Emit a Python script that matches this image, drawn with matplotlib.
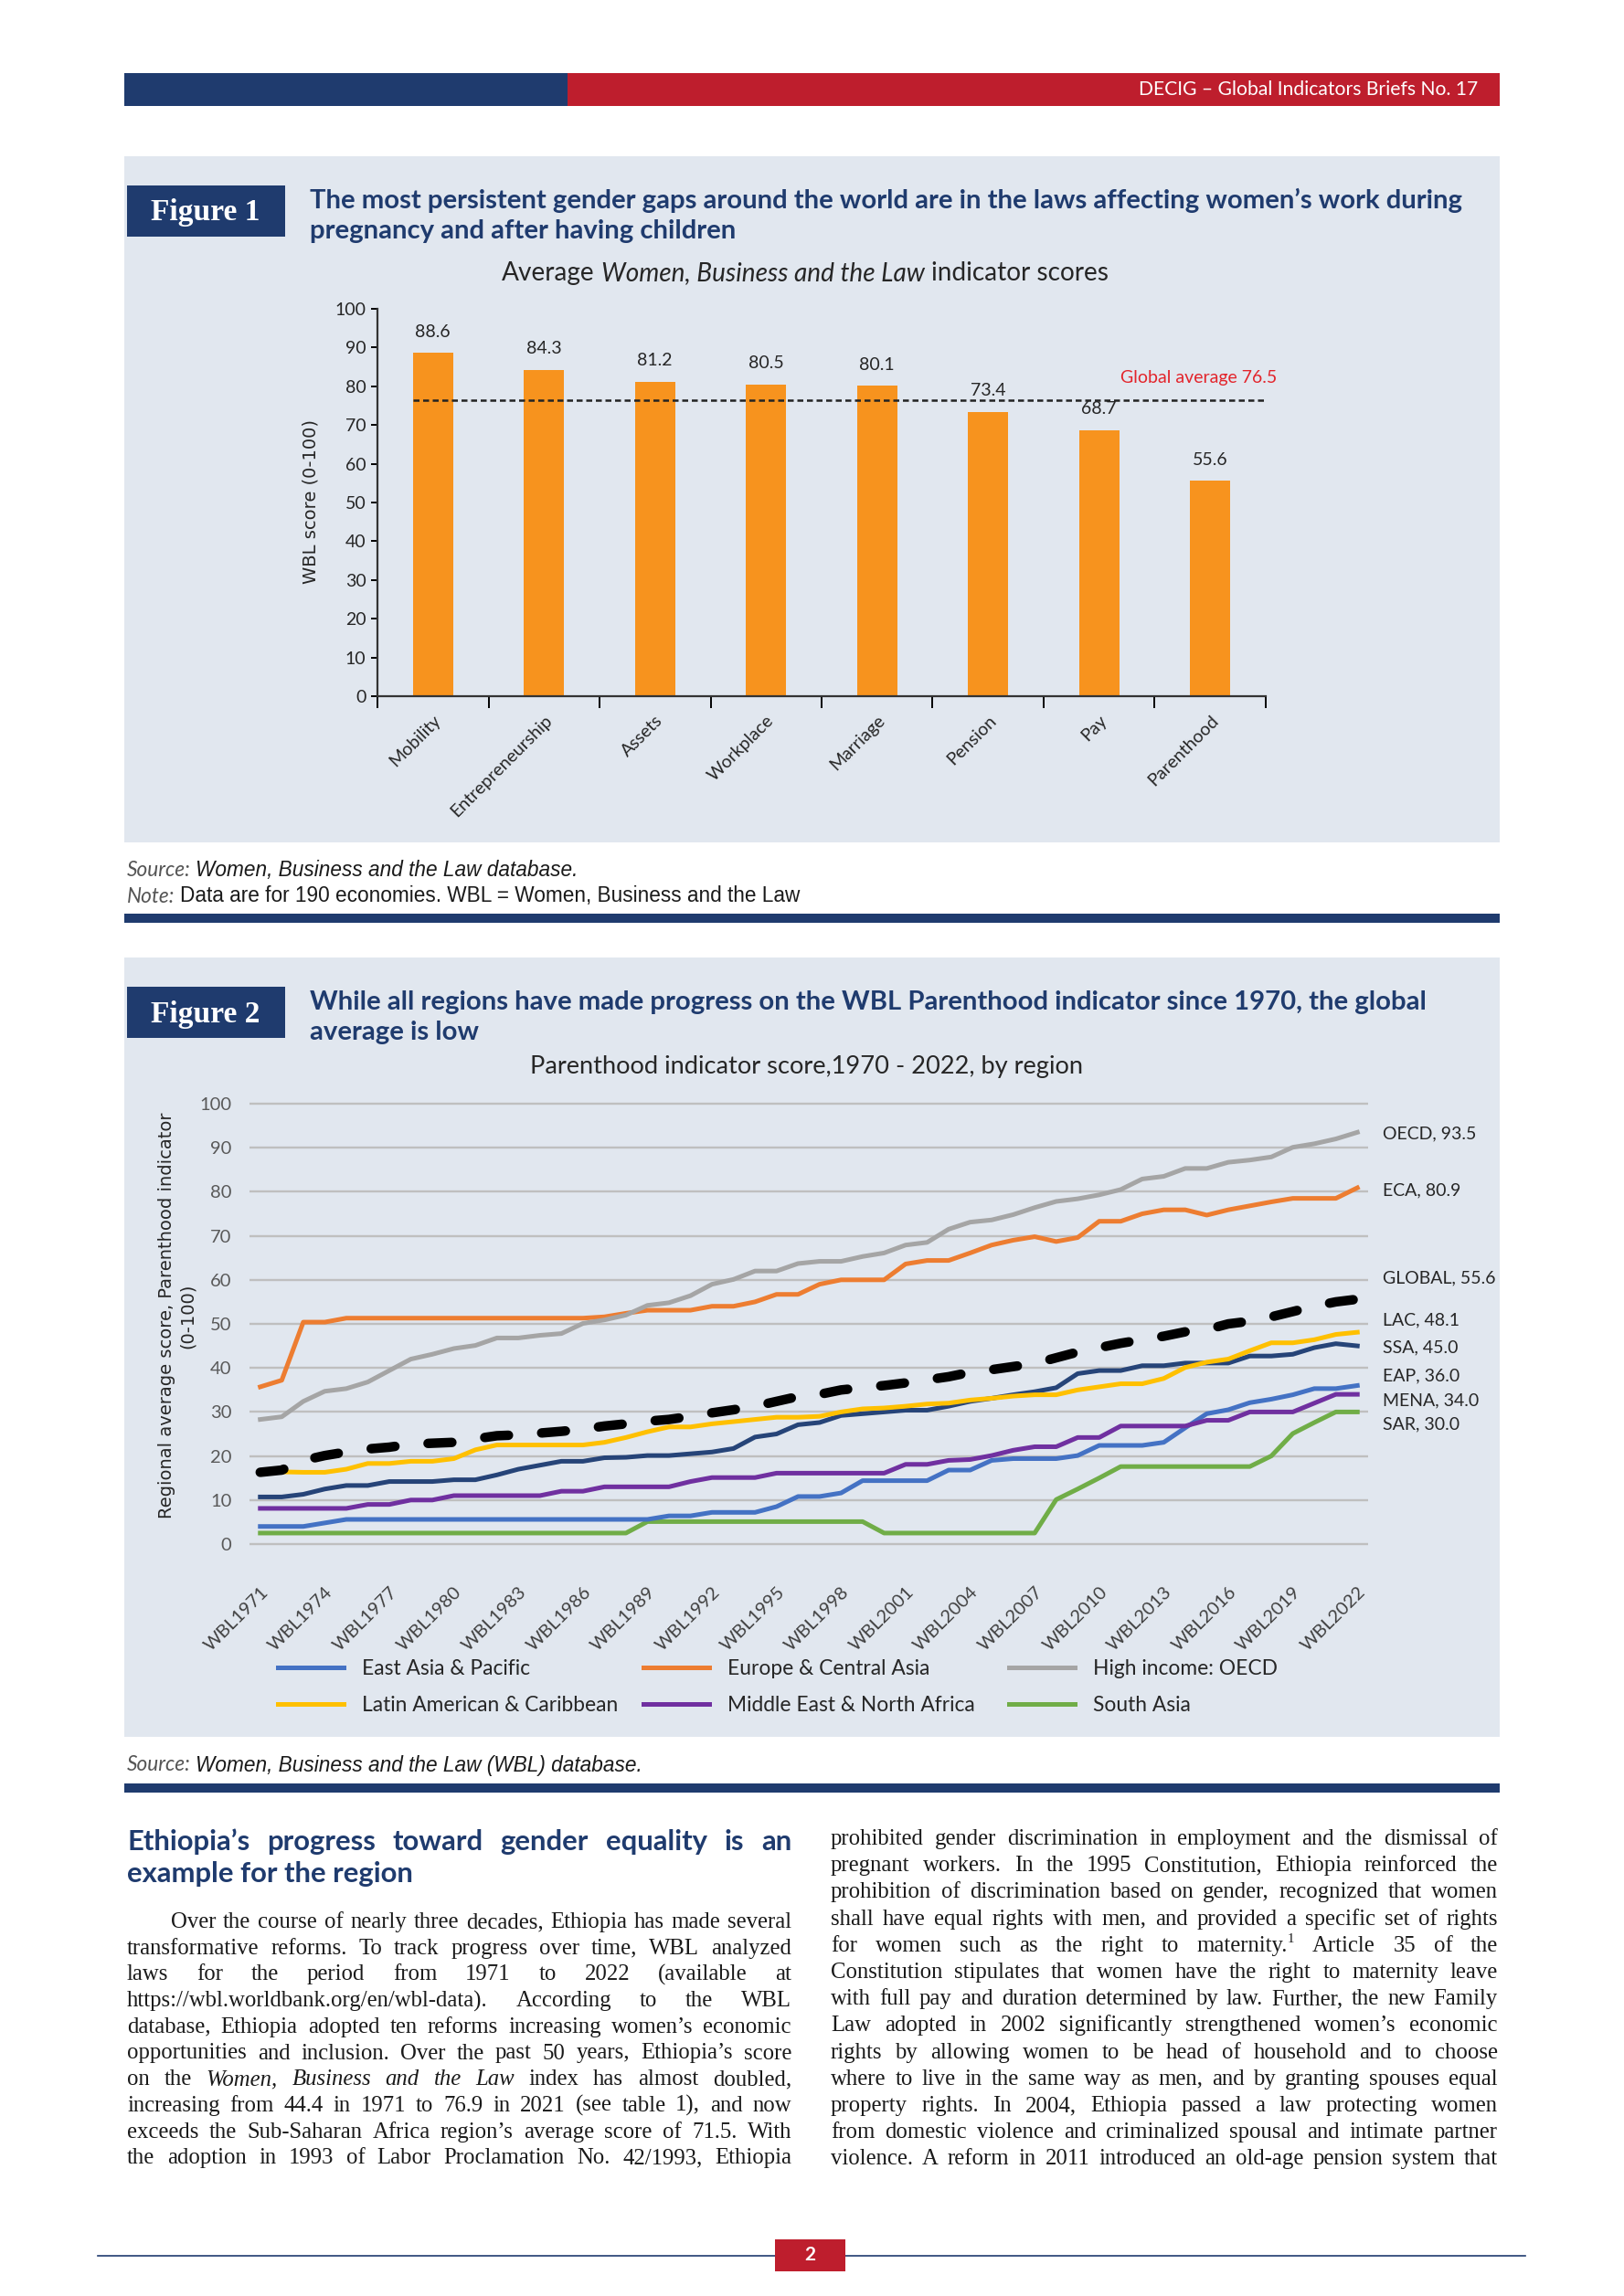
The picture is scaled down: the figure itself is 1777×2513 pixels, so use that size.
import matplotlib
matplotlib.use('Agg')
import matplotlib.pyplot as plt
from matplotlib.patches import Rectangle
import numpy as np

# ---------------- data: Figure 1 ----------------
fig1_categories = ['Mobility', 'Entrepreneurship', 'Assets', 'Workplace',
                   'Marriage', 'Pension', 'Pay', 'Parenthood']
fig1_scores = [88.6, 84.3, 81.2, 80.5, 80.1, 73.4, 68.7, 55.6]
fig1_global_average = 76.5

# ---------------- data: Figure 2 ----------------
years = list(range(1971, 2023))
eap = [4.0, 4.0, 4.0, 4.8, 5.6, 5.6, 5.6, 5.6, 5.6, 5.6, 5.6, 5.6, 5.6, 5.6, 5.6, 5.6, 5.6, 5.6, 5.6,
       6.4, 6.4, 7.2, 7.2, 7.2, 8.5, 10.8, 10.8, 11.6, 14.4, 14.4, 14.4, 14.4, 16.8, 16.8, 19.0, 19.4,
       19.4, 19.4, 20.1, 22.4, 22.4, 22.4, 23.1, 26.4, 29.6, 30.5, 32.1, 32.9, 33.9, 35.3, 35.3, 36.0]
eca = [35.7, 37.2, 50.4, 50.4, 51.3, 51.3, 51.3, 51.3, 51.3, 51.3, 51.3, 51.3, 51.3, 51.3, 51.3, 51.3,
       51.6, 52.4, 53.1, 53.1, 53.1, 54.0, 54.0, 55.0, 56.7, 56.7, 59.0, 60.0, 60.0, 60.0, 63.6, 64.4,
       64.4, 66.1, 67.9, 69.0, 69.8, 68.7, 69.6, 73.3, 73.3, 75.0, 75.9, 75.9, 74.7, 75.9, 76.8, 77.7,
       78.5, 78.5, 78.5, 80.9]
oecd = [28.3, 28.9, 32.4, 34.7, 35.3, 36.8, 39.4, 42.0, 43.1, 44.4, 45.1, 46.8, 46.8, 47.4, 47.8, 50.1,
        50.9, 52.0, 54.2, 54.8, 56.4, 59.0, 60.1, 62.0, 62.0, 63.7, 64.2, 64.2, 65.3, 66.1, 67.9, 68.5,
        71.5, 73.1, 73.6, 74.8, 76.4, 77.8, 78.4, 79.3, 80.5, 82.9, 83.5, 85.3, 85.3, 86.7, 87.2, 87.9,
        90.1, 90.9, 92.0, 93.5]
lac = [16.4, 16.4, 16.3, 16.3, 17.0, 18.3, 18.3, 18.8, 18.8, 19.4, 21.4, 22.5, 22.5, 22.5, 22.5, 22.5,
       23.1, 24.2, 25.5, 26.6, 26.6, 27.3, 27.8, 28.3, 28.8, 28.8, 29.0, 30.0, 30.7, 30.9, 31.3, 31.8,
       32.0, 32.7, 33.1, 33.6, 33.9, 33.9, 35.0, 35.7, 36.4, 36.4, 37.6, 40.1, 41.3, 42.0, 43.9, 45.7,
       45.7, 46.4, 47.6, 48.1]
mena = [8.1, 8.1, 8.1, 8.1, 8.1, 9.0, 9.0, 10.0, 10.0, 11.0, 11.0, 11.0, 11.0, 11.0, 12.0, 12.0, 13.0,
        13.0, 13.0, 13.0, 14.2, 15.1, 15.1, 15.1, 16.1, 16.1, 16.1, 16.1, 16.1, 16.1, 18.1, 18.1, 19.0,
        19.2, 20.1, 21.3, 22.1, 22.1, 24.2, 24.2, 26.8, 26.8, 26.8, 26.8, 28.1, 28.1, 30.0, 30.0, 30.0,
        32.0, 34.0, 34.0]
ssa = [10.7, 10.7, 11.3, 12.5, 13.3, 13.3, 14.2, 14.2, 14.2, 14.6, 14.6, 15.7, 17.0, 17.9, 18.8, 18.8,
       19.6, 19.7, 20.1, 20.1, 20.5, 20.9, 21.7, 24.3, 25.0, 27.1, 27.6, 29.2, 29.6, 30.0, 30.4, 30.4,
       31.3, 32.4, 33.1, 33.9, 34.6, 35.5, 38.7, 39.4, 39.4, 40.5, 40.5, 41.1, 41.1, 41.1, 42.7, 42.7,
       43.1, 44.6, 45.5, 45.0]
sar = [2.5, 2.5, 2.5, 2.5, 2.5, 2.5, 2.5, 2.5, 2.5, 2.5, 2.5, 2.5, 2.5, 2.5, 2.5, 2.5, 2.5, 2.5,
       5.1, 5.1, 5.1, 5.1, 5.1, 5.1, 5.1, 5.1, 5.1, 5.1, 5.1,
       2.5, 2.5, 2.5, 2.5, 2.5, 2.5, 2.5, 2.5,
       10.1, 12.5, 15.0, 17.6, 17.6, 17.6, 17.6, 17.6, 17.6, 17.6, 20.0, 25.1, 27.6, 30.0, 30.0]
global_avg = [16.3, 16.8, 19.0, 20.1, 20.9, 21.6, 22.0, 22.7, 22.9, 23.1, 23.9, 24.6, 24.8, 25.2, 25.6,
              26.1, 26.8, 27.3, 27.9, 28.3, 29.0, 29.8, 30.5, 31.3, 32.4, 33.5, 34.0, 35.0, 35.5, 36.0,
              36.6, 37.3, 38.0, 39.0, 39.6, 40.3, 41.0, 42.3, 43.6, 44.6, 45.6, 46.4, 47.2, 48.2, 48.7,
              50.0, 50.6, 51.6, 52.8, 54.0, 55.0, 55.6]
for s in (eap, eca, oecd, lac, mena, ssa, sar, global_avg):
    assert len(s) == len(years)

x_tick_years = years[::3]

# ---------------- page / style ----------------
W, H = 1777, 2513
fig = plt.figure(figsize=(W / 100, H / 100), dpi=100)
fig.patch.set_facecolor('white')
R = fig.canvas.get_renderer()

NAVY = '#1F3B6E'
RED = '#BE1E2D'
PANEL = '#E1E7EF'
SANS = ['Lato', 'DejaVu Sans']
SERIF = ['Liberation Serif', 'DejaVu Serif']


def fx(px):
    return px / W


def fy(py):
    return 1 - py / H


def rect(x0, y0, x1, y1, color, z=-5):
    fig.add_artist(Rectangle((fx(x0), fy(y1)), fx(x1) - fx(x0), fy(y0) - fy(y1),
                             transform=fig.transFigure, facecolor=color,
                             edgecolor='none', zorder=z))


def width_of(t):
    return t.get_window_extent(renderer=R).width


def space_w(fs, family, weight='normal', style='normal'):
    a = fig.text(0, 0, 'a a', fontsize=fs, family=family, weight=weight, style=style)
    b = fig.text(0, 0, 'aa', fontsize=fs, family=family, weight=weight, style=style)
    w = width_of(a) - width_of(b)
    a.remove(); b.remove()
    return w


def runs(x, y, parts, fs, ha='left', va='center', color='black', target=None):
    """parts: list of (text, dict(family, style, weight, color)); joined by spaces."""
    def build(size):
        objs = []
        for s, kw in parts:
            kk = dict(family=SANS, style='normal', weight='normal', color=color)
            kk.update(kw)
            objs.append(fig.text(0, fy(y), s, fontsize=size, va=va, ha='left', **kk))
        return objs
    objs = build(fs)
    sp = [space_w(fs, t.get_fontfamily(), t.get_weight(), t.get_style()) for t in objs]
    ws = [width_of(t) for t in objs]
    total = sum(ws) + sum(sp[:-1])
    if target is not None:
        for t in objs:
            t.remove()
        fs = fs * target / total
        objs = build(fs)
        sp = [space_w(fs, t.get_fontfamily(), t.get_weight(), t.get_style()) for t in objs]
        ws = [width_of(t) for t in objs]
        total = sum(ws) + sum(sp[:-1])
    if ha == 'center':
        cur = x - total / 2
    elif ha == 'right':
        cur = x - total
    else:
        cur = x
    for t, w, s in zip(objs, ws, sp):
        t.set_x(fx(cur))
        cur += w + s
    return fs


def fit_size(text, target, family, weight='normal', style='normal'):
    t = fig.text(0, 0, text, fontsize=10, family=family, weight=weight, style=style)
    w = width_of(t)
    t.remove()
    return 10 * target / w


def para(lines, x0, x1, base0, dy, fs, family, color, indent=0, justify=True):
    sp = space_w(fs, family)
    for i, line in enumerate(lines):
        y = base0 + i * dy
        left = x0 + (indent if i == 0 else 0)
        items = []
        for wtxt in line.split(' '):
            style = 'normal'
            if wtxt.startswith('*'):
                style = 'italic'
                wtxt = wtxt[1:]
            sup = None
            if '^' in wtxt:
                wtxt, sup = wtxt.split('^')
            t = fig.text(0, fy(y), wtxt, fontsize=fs, family=family, style=style,
                         color=color, va='baseline', ha='left')
            wd = width_of(t)
            st, swd = None, 0
            if sup:
                st = fig.text(0, fy(y - fs * 1.389 * 0.38), sup, fontsize=fs * 0.6,
                              family=family, color=color, va='baseline', ha='left')
                swd = width_of(st)
            items.append((t, wd, st, swd))
        total = sum(a[1] + a[3] for a in items)
        if justify and len(items) > 1:
            gap = (x1 - left - total) / (len(items) - 1)
        else:
            gap = sp
        cur = left
        for t, wd, st, swd in items:
            t.set_x(fx(cur))
            cur += wd
            if st is not None:
                st.set_x(fx(cur))
                cur += swd
            cur += gap


def natural_fit(lines, width, family, fs0=18):
    sizes = []
    for line in lines:
        s = line.replace('*', '').replace('^', '')
        sizes.append(fit_size(s, width, family))
    return min(min(sizes), fs0)


# ---------------- header ----------------
rect(136, 80, 621, 116, NAVY)
rect(621, 80, 1641, 116, RED)
hs = fit_size('DECIG – Global Indicators Briefs No. 17', 372, SANS)
fig.text(fx(1617), fy(98), 'DECIG – Global Indicators Briefs No. 17', color='white',
         fontsize=hs, family=SANS, ha='right', va='center')

# ---------------- Figure 1 panel ----------------
rect(136, 171, 1641, 922, PANEL)
rect(139, 203, 312, 259, NAVY)
fs_fig = fit_size('Figure 1', 120, SERIF, weight='bold')
fig.text(fx(225), fy(233), 'Figure 1', color='white', fontsize=fs_fig, family=SERIF,
         weight='bold', ha='center', va='center')
t1 = 'The most persistent gender gaps around the world are in the laws affecting women’s work during'
ts = fit_size(t1, 1267, SANS, weight='bold')
fig.text(fx(339), fy(219), t1, color=NAVY, fontsize=ts, family=SANS, weight='bold', va='center')
fig.text(fx(339), fy(253), 'pregnancy and after having children', color=NAVY, fontsize=ts,
         family=SANS, weight='bold', va='center')
runs(881, 299, [('Average', {}), ('Women, Business and the Law', {'style': 'italic'}),
                ('indicator scores', {})], 16, ha='center', color='#262626', target=664)

ax1 = fig.add_axes([fx(413), fy(762), fx(1385) - fx(413), fy(338) - fy(762)])
ax1.set_facecolor('none')
xpos = np.arange(len(fig1_categories))
ax1.bar(xpos, fig1_scores, width=0.36, color='#F7931E', zorder=2)
ax1.set_xlim(-0.5, len(fig1_categories) - 0.5)
ax1.set_ylim(0, 100)
for xi, v in zip(xpos, fig1_scores):
    ax1.text(xi, v + 3.4, f'{v:.1f}', ha='center', va='bottom', fontsize=14,
             family=SANS, color='#262626', zorder=4)
ax1.plot([-0.18, len(fig1_categories) - 0.5], [fig1_global_average] * 2,
         ls=(0, (2.6, 1.6)), color='#222222', lw=1.8, zorder=3)
ax1.text(len(fig1_categories) - 0.4, 82.3, f'Global average {fig1_global_average}',
         color='#E3242B', ha='right', va='center', fontsize=14, family=SANS, clip_on=False)
for sname in ('top', 'right'):
    ax1.spines[sname].set_visible(False)
for sname in ('left', 'bottom'):
    ax1.spines[sname].set_color('#333333')
    ax1.spines[sname].set_linewidth(1.6)
ax1.set_yticks(range(0, 101, 10))
ax1.tick_params(axis='y', direction='out', length=5, width=1.4, labelsize=14,
                labelcolor='#262626', pad=4)
for lab in ax1.get_yticklabels():
    lab.set_family(SANS)
ax1.set_xticks(np.arange(-0.5, len(fig1_categories), 1.0))
ax1.set_xticklabels([])
ax1.tick_params(axis='x', which='major', direction='out', length=9, width=1.4)
ax1.set_xticks(xpos, minor=True)
ax1.set_xticklabels(fig1_categories, minor=True, rotation=45, ha='right',
                    rotation_mode='anchor', fontsize=14, family=SANS, color='#262626')
ax1.tick_params(axis='x', which='minor', length=0, pad=13)
fig.text(fx(340), fy(549), 'WBL score (0-100)', rotation=90, ha='center', va='center',
         fontsize=14, family=['DejaVu Sans'], color='#262626')

# source / note figure 1
src_fs = runs(139, 952, [('Source:', {'family': SANS, 'style': 'italic', 'color': '#555555'}),
                         ('Women, Business and the Law database.',
                          {'family': ['Liberation Sans'], 'style': 'italic'})],
              13, color='#1a1a1a', target=492)
runs(139, 981, [('Note:', {'family': SANS, 'style': 'italic', 'color': '#555555'}),
                ('Data are for 190 economies. WBL = Women, Business and the Law',
                 {'family': ['Liberation Sans']})], src_fs, color='#1a1a1a')
rect(136, 1000, 1641, 1010, NAVY)

# ---------------- Figure 2 panel ----------------
rect(136, 1048, 1641, 1901, PANEL)
rect(139, 1080, 312, 1136, NAVY)
fig.text(fx(225), fy(1110), 'Figure 2', color='white', fontsize=fs_fig, family=SERIF,
         weight='bold', ha='center', va='center')
t2 = 'While all regions have made progress on the WBL Parenthood indicator since 1970, the global'
fig.text(fx(339), fy(1097), t2, color=NAVY, fontsize=ts, family=SANS, weight='bold', va='center')
fig.text(fx(339), fy(1130), 'average is low', color=NAVY, fontsize=ts, family=SANS,
         weight='bold', va='center')
st2 = fit_size('Parenthood indicator score,1970 - 2022, by region', 609, SANS)
fig.text(fx(883), fy(1167), 'Parenthood indicator score,1970 - 2022, by region',
         color='#262626', fontsize=st2, family=SANS, ha='center', va='center')

# axes: data 0 at y=1690 px, 100 at y=1208 px
ppu = (1690 - 1208) / 100.0
ax2 = fig.add_axes([fx(273), fy(1690 + 1.0 * ppu), fx(1497) - fx(273), (101.6 * ppu) / H])
ax2.set_facecolor('none')
ax2.set_xlim(-0.5, len(years) - 0.5)
ax2.set_ylim(-1.0, 100.6)
xi = np.arange(len(years))
series = [
    ('East Asia & Pacific', eap, '#4472C4'),
    ('Latin American & Caribbean', lac, '#FFC000'),
    ('Europe & Central Asia', eca, '#ED7D31'),
    ('Middle East & North Africa', mena, '#7030A0'),
    ('High income: OECD', oecd, '#A5A5A5'),
    ('South Asia', sar, '#70AD47'),
]
handles = {}
for name, vals, col in [series[5], series[0], series[3]]:
    handles[name], = ax2.plot(xi, vals, color=col, lw=3.6, solid_joinstyle='round', zorder=3)
ax2.plot(xi, ssa, color='#264478', lw=3.6, solid_joinstyle='round', zorder=3)
for name, vals, col in [series[1], series[2], series[4]]:
    handles[name], = ax2.plot(xi, vals, color=col, lw=3.6, solid_joinstyle='round', zorder=3)
ax2.plot(xi, global_avg, color='black', lw=7.5, ls=(0, (2.5, 3.5)),
         dash_capstyle='round', zorder=4)
for sname in ax2.spines:
    ax2.spines[sname].set_visible(False)
ax2.set_yticks(range(0, 101, 10))
ax2.grid(axis='y', color='#BFBFBF', lw=1.7)
ax2.set_axisbelow(True)
ax2.tick_params(axis='y', length=0, labelsize=14.5, labelcolor='#595959', pad=14)
for lab in ax2.get_yticklabels():
    lab.set_family(SANS)
ax2.set_xticks([years.index(y) for y in x_tick_years])
ax2.set_xticklabels([f'WBL{y}' for y in x_tick_years], rotation=45, ha='right',
                    rotation_mode='anchor', fontsize=14.5, family=SANS, color='#404040')
ax2.tick_params(axis='x', length=0, pad=28)

end_labels = [('OECD', oecd, 93.2), ('ECA', eca, 80.3), ('GLOBAL', global_avg, 60.5),
              ('LAC', lac, 50.9), ('SSA', ssa, 44.6), ('EAP', eap, 38.3),
              ('MENA', mena, 32.7), ('SAR', sar, 27.2)]
for name, vals, ly in end_labels:
    ax2.text(52.2, ly, f'{name}, {vals[-1]:.1f}', ha='left', va='center', fontsize=14,
             family=SANS, color='#262626', clip_on=False)

fig.text(fx(205), fy(1440), '(0-100)', rotation=90, ha='center', va='center',
         fontsize=14, family=['DejaVu Sans'], color='#262626')
fig.text(fx(183), fy(1440), 'Regional average score, Parenthood indicator', rotation=90,
         ha='center', va='center', fontsize=14, family=['DejaVu Sans'], color='#262626')

# legend: three columns
col_x = [304, 704, 1104]
for c in range(3):
    hs_ = [handles[series[2 * c][0]], handles[series[2 * c + 1][0]]]
    ls_ = [series[2 * c][0], series[2 * c + 1][0]]
    fig.legend(hs_, ls_, loc='upper left', bbox_to_anchor=(fx(col_x[c]), fy(1816)),
               frameon=False, ncol=1, borderpad=0, borderaxespad=0, handlelength=3.15,
               handletextpad=0.9, labelspacing=0.85, prop={'family': SANS, 'size': 16.4},
               labelcolor='#262626')

runs(139, 1932, [('Source:', {'family': SANS, 'style': 'italic', 'color': '#555555'}),
                 ('Women, Business and the Law (WBL) database.',
                  {'family': ['Liberation Sans'], 'style': 'italic'})], src_fs, color='#1a1a1a')
rect(136, 1952, 1641, 1962, NAVY)

# ---------------- body text ----------------
heading1 = 'Ethiopia’s progress toward gender equality is an'
heading2 = 'example for the region'
hw = fit_size(heading2, 314, SANS, weight='bold')
words = heading1.split(' ')
objs = [fig.text(0, fy(2025), w, fontsize=hw, family=SANS, weight='bold', color=NAVY,
                 va='baseline') for w in words]
wsum = sum(width_of(o) for o in objs)
gap = (866 - 139 - wsum) / (len(objs) - 1)
cur = 139
for o in objs:
    o.set_x(fx(cur))
    cur += width_of(o) + gap
fig.text(fx(139), fy(2060), heading2, fontsize=hw, family=SANS, weight='bold', color=NAVY,
         va='baseline')

left_lines = [
    'Over the course of nearly three decades, Ethiopia has made several',
    'transformative reforms. To track progress over time, WBL analyzed',
    'laws for the period from 1971 to 2022 (available at',
    'https://wbl.worldbank.org/en/wbl-data). According to the WBL',
    'database, Ethiopia adopted ten reforms increasing women’s economic',
    'opportunities and inclusion. Over the past 50 years, Ethiopia’s score',
    'on the *Women, *Business *and *the *Law index has almost doubled,',
    'increasing from 44.4 in 1971 to 76.9 in 2021 (see table 1), and now',
    'exceeds the Sub-Saharan Africa region’s average score of 71.5. With',
    'the adoption in 1993 of Labor Proclamation No. 42/1993, Ethiopia',
]
right_lines = [
    'prohibited gender discrimination in employment and the dismissal of',
    'pregnant workers. In the 1995 Constitution, Ethiopia reinforced the',
    'prohibition of discrimination based on gender, recognized that women',
    'shall have equal rights with men, and provided a specific set of rights',
    'for women such as the right to maternity.^1 Article 35 of the',
    'Constitution stipulates that women have the right to maternity leave',
    'with full pay and duration determined by law. Further, the new Family',
    'Law adopted in 2002 significantly strengthened women’s economic',
    'rights by allowing women to be head of household and to choose',
    'where to live in the same way as men, and by granting spouses equal',
    'property rights. In 2004, Ethiopia passed a law protecting women',
    'from domestic violence and criminalized spousal and intimate partner',
    'violence. A reform in 2011 introduced an old-age pension system that',
]
bfs = min(natural_fit(left_lines[1:], 866 - 139, SERIF),
          natural_fit(right_lines, 1639 - 909, SERIF)) * 0.99
para(left_lines, 139, 866, 2110, 28.7, bfs, SERIF, '#1a1a1a', indent=48)
para(right_lines, 909, 1639, 2019, 29.2, bfs, SERIF, '#1a1a1a')

# ---------------- footer ----------------
fig.add_artist(plt.Line2D([fx(107), fx(1669)], [fy(2469), fy(2469)], transform=fig.transFigure,
                          color=NAVY, lw=1.2, zorder=-4))
rect(848, 2451, 925, 2486, RED, z=-3)
fig.text(fx(886), fy(2468), '2', color='white', fontsize=15, family=SANS, weight='bold',
         ha='center', va='center')

fig.savefig('out.png', dpi=100, facecolor='white')
